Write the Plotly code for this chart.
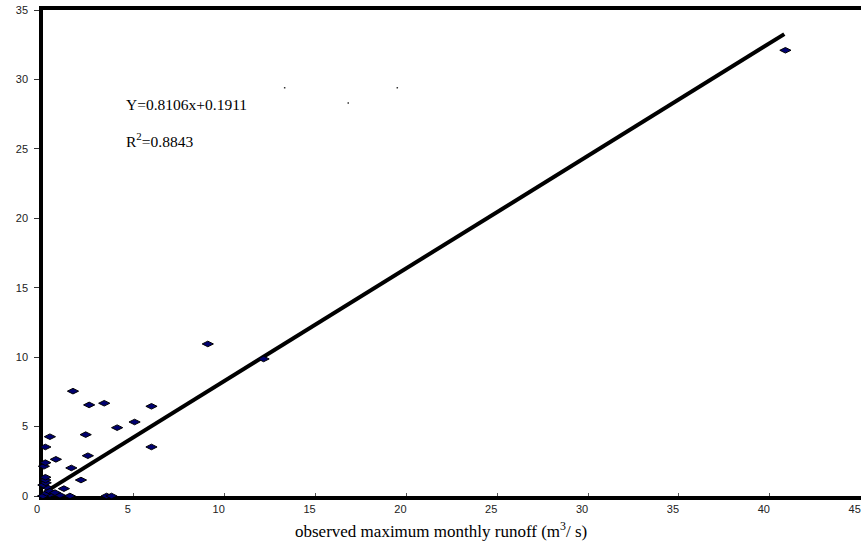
import plotly.graph_objects as go

# observed vs simulated maximum monthly runoff (m3/s)
obs_x = [0.0, 0.38, 0.93, 1.48, 3.5, 3.77, 0.2, 0.35, 0.66, 1.15, 0.2, 0.02, 0.15,
         0.13, 0.13, 2.09, 1.56, 0.05, 0.13, 0.71, 2.47, 0.13, 5.97, 0.38, 2.35,
         4.08, 5.04, 5.97, 2.54, 3.37, 1.65, 9.07, 12.14, 40.86]
sim_y = [0.0, 0.1, 0.05, 0.0, 0.0, 0.0, 0.2, 0.35, 0.24, 0.53, 0.63, 0.79, 0.95,
         1.15, 1.35, 1.15, 2.02, 2.14, 2.40, 2.64, 2.90, 3.53, 3.53, 4.27, 4.42,
         4.92, 5.33, 6.46, 6.56, 6.68, 7.55, 10.95, 9.87, 32.1]

slope = 0.8106
intercept = 0.1911
fit_x = [0.2, 40.8]
fit_y = [slope * v + intercept for v in fit_x]

speck_x = [13.3, 19.5, 16.8]
speck_y = [29.4, 29.4, 28.3]

x_ticks = [0, 5, 10, 15, 20, 25, 30, 35, 40, 45]
y_ticks = [0, 5, 10, 15, 20, 25, 30, 35]

W, H = 861, 544
ML, MR, MT, MB = 43, 0, 10, 48

fig = go.Figure()
fig.add_trace(go.Scatter(x=fit_x, y=fit_y, mode="lines",
                         line=dict(color="black", width=4), cliponaxis=False,
                         showlegend=False, hoverinfo="skip"))
fig.add_trace(go.Scatter(x=obs_x, y=sim_y, mode="markers",
                         marker=dict(symbol="diamond-wide", size=8, color="#000070",
                                     line=dict(color="black", width=1)),
                         cliponaxis=False, showlegend=False))
fig.add_trace(go.Scatter(x=speck_x, y=speck_y, mode="markers",
                         marker=dict(symbol="square", size=1.5, color="#333333"),
                         showlegend=False, hoverinfo="skip"))

fig.update_xaxes(range=[0, 45.02], tickvals=x_ticks, ticks="inside", ticklen=3,
                 tickcolor="#555555", showline=True, linecolor="black", linewidth=4,
                 mirror=True, showgrid=False, zeroline=False, layer="below traces",
                 ticklabelshift=-6, ticklabeloverflow="allow",
                 tickfont=dict(family="Liberation Sans, Arial", size=11, color="#222222"))
fig.update_yaxes(range=[0, 35], tickvals=y_ticks, ticks="outside", ticklen=5,
                 tickcolor="#333333", showline=True, linecolor="black", linewidth=3.5,
                 showgrid=False, zeroline=False, layer="below traces",
                 ticklabelstandoff=4, ticklabeloverflow="allow",
                 tickfont=dict(family="Liberation Sans, Arial", size=11, color="#222222"))

def px_x(p):
    return (p - ML) / (W - ML - MR)

def px_y(p):
    return 1 - (p - MT) / (H - MT - MB)

serif = "Liberation Serif, Times New Roman, serif"
fig.add_annotation(x=px_x(124), y=px_y(104), xref="paper", yref="paper",
                   text="Y=0.8106x+0.1911", showarrow=False, xanchor="left",
                   yanchor="middle", font=dict(family=serif, size=15.5, color="black"))
fig.add_annotation(x=px_x(124), y=px_y(140), xref="paper", yref="paper",
                   text="R<sup>2</sup>=0.8843", showarrow=False, xanchor="left",
                   yanchor="middle", font=dict(family=serif, size=15.5, color="black"))
fig.add_annotation(x=px_x(441), y=px_y(530), xref="paper", yref="paper",
                   text="observed maximum monthly runoff (m<sup>3</sup>/ s)",
                   showarrow=False, xanchor="center", yanchor="middle",
                   font=dict(family=serif, size=17, color="black"))

fig.update_layout(width=W, height=H, margin=dict(l=ML, r=MR, t=MT, b=MB),
                  plot_bgcolor="white", paper_bgcolor="white", showlegend=False)

# remove the default 8px page margin so the figure fills the window exactly
fig.write_html("out.html", config={"displayModeBar": False},
               post_script="document.body.style.margin='0px';document.body.style.overflow='hidden';")
